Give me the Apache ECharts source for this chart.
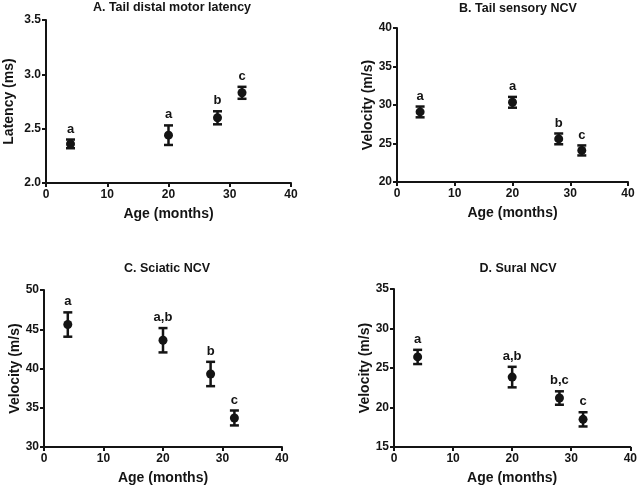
<!DOCTYPE html>
<html><head><meta charset="utf-8">
<script src="https://cdn.jsdelivr.net/npm/echarts@6/dist/echarts.min.js"></script>
<style>html,body{margin:0;padding:0;background:#fff}#c{width:640px;height:486px}</style>
</head><body><div id="c"></div>
<script>
var ages = [4, 20, 28, 32];
var xTicks = [0, 10, 20, 30, 40];

var titleA = "A. Tail distal motor latency";
var meanA = [2.36, 2.44, 2.60, 2.83];
var semA = [0.04, 0.09, 0.06, 0.055];
var letA = ["a", "a", "b", "c"];

var titleB = "B. Tail sensory NCV";
var meanB = [29.1, 30.35, 25.6, 24.1];
var semB = [0.7, 0.7, 0.7, 0.65];
var letB = ["a", "a", "b", "c"];

var titleC = "C. Sciatic NCV";
var meanC = [45.6, 43.6, 39.3, 33.7];
var semC = [1.55, 1.55, 1.55, 0.95];
var letC = ["a", "a,b", "b", "c"];

var titleD = "D. Sural NCV";
var meanD = [26.4, 23.85, 21.2, 18.5];
var semD = [0.9, 1.3, 0.85, 0.9];
var letD = ["a", "a,b", "b,c", "c"];

var panels = [
  {title: titleA, mean: meanA, sem: semA, let: letA, yName: "Latency (ms)", yMin: 2.0, yMax: 3.5, yInt: 0.5, dec: 1, yGap: 30,
   grid: {left: 46, top: 20, width: 245, height: 163}, tx: 167, ty: -4},
  {title: titleB, mean: meanB, sem: semB, let: letB, yName: "Velocity (m/s)", yMin: 20, yMax: 40, yInt: 5, dec: 0, yGap: 21,
   grid: {left: 397, top: 28, width: 231, height: 154}, tx: 513, ty: -3},
  {title: titleC, mean: meanC, sem: semC, let: letC, yName: "Velocity (m/s)", yMin: 30, yMax: 50, yInt: 5, dec: 0, yGap: 21,
   grid: {left: 44, top: 290, width: 238, height: 158}, tx: 162, ty: 257},
  {title: titleD, mean: meanD, sem: semD, let: letD, yName: "Velocity (m/s)", yMin: 15, yMax: 35, yInt: 5, dec: 0, yGap: 21,
   grid: {left: 394, top: 289, width: 239, height: 159}, tx: 513, ty: 257}
];

var FONT = "Liberation Sans, Arial, sans-serif";
var INK = "#141414";
var option = {animation: false, backgroundColor: "#fff", title: [], grid: [], xAxis: [], yAxis: [], series: []};

panels.forEach(function (p, i) {
  option.title.push({text: p.title, left: p.tx, top: p.ty, textAlign: "center",
    textStyle: {fontFamily: FONT, fontWeight: "bold", fontSize: 12.5, color: INK}});
  option.grid.push(Object.assign({containLabel: false}, p.grid));
  option.xAxis.push({gridIndex: i, type: "value", min: 0, max: 40, interval: 10,
    name: "Age (months)", nameLocation: "middle", nameGap: 24,
    nameTextStyle: {fontFamily: FONT, fontWeight: "bold", fontSize: 14, color: INK},
    axisLine: {lineStyle: {color: INK, width: 2}}, axisTick: {length: 4, lineStyle: {color: INK, width: 2}},
    axisLabel: {fontFamily: FONT, fontWeight: "bold", fontSize: 12, color: INK, margin: 6},
    splitLine: {show: false}});
  option.yAxis.push({gridIndex: i, type: "value", min: p.yMin, max: p.yMax, interval: p.yInt,
    name: p.yName, nameLocation: "middle", nameGap: p.yGap,
    nameTextStyle: {fontFamily: FONT, fontWeight: "bold", fontSize: 14, color: INK},
    axisLine: {lineStyle: {color: INK, width: 2}}, axisTick: {length: 4, lineStyle: {color: INK, width: 2}},
    axisLabel: {fontFamily: FONT, fontWeight: "bold", fontSize: 12, color: INK, margin: 5,
      formatter: function (v) { return v.toFixed(p.dec); }},
    splitLine: {show: false}});
  var ebData = ages.map(function (a, k) { return [a, p.mean[k] - p.sem[k], p.mean[k] + p.sem[k]]; });
  option.series.push({type: "custom", xAxisIndex: i, yAxisIndex: i, data: ebData, z: 2,
    renderItem: function (params, api) {
      var x = api.value(0);
      var lo = api.coord([x, api.value(1)]);
      var hi = api.coord([x, api.value(2)]);
      var hw = 4.5;
      var st = {stroke: INK, lineWidth: 2.5};
      return {type: "group", children: [
        {type: "line", shape: {x1: lo[0], y1: lo[1], x2: hi[0], y2: hi[1]}, style: st},
        {type: "line", shape: {x1: lo[0] - hw, y1: lo[1], x2: lo[0] + hw, y2: lo[1]}, style: st},
        {type: "line", shape: {x1: hi[0] - hw, y1: hi[1], x2: hi[0] + hw, y2: hi[1]}, style: st},
        {type: "text", style: {text: p.let[params.dataIndex], x: hi[0], y: hi[1] - 4,
          textAlign: "center", textVerticalAlign: "bottom",
          font: "bold 13px " + FONT, fill: INK}}
      ]};
    }});
  option.series.push({type: "scatter", xAxisIndex: i, yAxisIndex: i, z: 3,
    data: ages.map(function (a, k) { return [a, p.mean[k]]; }),
    symbol: "circle", symbolSize: 9, itemStyle: {color: INK, opacity: 1}});
});

var chart = echarts.init(document.getElementById("c"), null, {renderer: "canvas"});
chart.setOption(option);
</script></body></html>
